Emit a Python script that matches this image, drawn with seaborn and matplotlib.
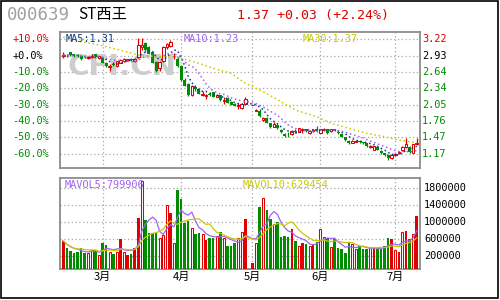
import numpy as np
import pandas as pd
import matplotlib
matplotlib.use("Agg")
import matplotlib.pyplot as plt
import matplotlib.transforms as mtrans
from matplotlib.patches import Rectangle
import seaborn as sns

nan = np.nan

# ---------------- data ----------------
OPEN = [2.92, 2.93, 2.99, 2.95, 2.94, 2.93, 2.91, 2.89, 2.90, 2.95,
        2.88, 2.89, 2.80, 2.73, 2.77, 2.74, 2.80, 2.84, 2.85, 2.86,
        2.84, 2.90, 3.08, 3.16, 3.08, 2.99, 2.81, 2.70, 2.84, 3.08,
        3.10, 2.92, 2.87, 2.74, 2.49, 2.42, 2.23, 2.36, 2.34, 2.22,
        2.21, 2.25, 2.27, 2.19, 2.22, 2.12, 2.17, 2.10, 2.07, 2.03,
        2.00, 2.06, nan, 2.04, 1.94, 1.93, 1.77, 1.82, 1.72, 1.66,
        1.69, 1.60, 1.53, 1.53, 1.52, 1.58, 1.57, 1.60, 1.61, 1.54,
        1.59, 1.62, 1.55, 1.60, 1.61, 1.58, 1.61, 1.57, 1.52, 1.47,
        1.41, 1.37, 1.39, 1.41, 1.38, 1.36, 1.29, 1.25, 1.30, 1.23,
        1.18, 1.16, 1.09, 1.15, 1.18, 1.24, 1.29, 1.29, 1.19, 1.34]
HIGH = [2.99, 2.95, 3.00, 2.96, 2.95, 2.94, 2.93, 2.93, 2.95, 2.96,
        2.93, 2.90, 2.81, 2.77, 2.79, 2.84, 2.86, 2.88, 2.87, 2.88,
        2.88, 3.24, 3.24, 3.18, 3.10, 3.00, 2.83, 2.83, 3.10, 3.16,
        3.21, 2.98, 2.90, 2.76, 2.52, 2.43, 2.40, 2.40, 2.35, 2.30,
        2.24, 2.28, 2.28, 2.24, 2.23, 2.18, 2.18, 2.12, 2.08, 2.08,
        2.08, 2.19, nan, 2.04, 1.98, 1.97, 1.84, 1.84, 1.73, 1.75,
        1.70, 1.62, 1.55, 1.57, 1.60, 1.61, 1.64, 1.64, 1.62, 1.60,
        1.62, 1.67, 1.62, 1.63, 1.62, 1.62, 1.62, 1.58, 1.53, 1.48,
        1.42, 1.42, 1.42, 1.42, 1.39, 1.37, 1.33, 1.32, 1.31, 1.24,
        1.19, 1.17, 1.17, 1.19, 1.23, 1.31, 1.45, 1.31, 1.35, 1.46]
LOW = [2.89, 2.90, 2.93, 2.91, 2.90, 2.85, 2.88, 2.87, 2.89, 2.89,
       2.87, 2.79, 2.73, 2.66, 2.74, 2.73, 2.79, 2.82, 2.83, 2.83,
       2.82, 2.89, 3.02, 3.00, 2.95, 2.79, 2.63, 2.66, 2.82, 3.04,
       3.08, 2.86, 2.73, 2.48, 2.38, 2.20, 2.21, 2.30, 2.24, 2.20,
       2.15, 2.21, 2.18, 2.18, 2.12, 2.07, 2.08, 2.04, 2.02, 1.97,
       1.98, 2.05, nan, 2.04, 1.94, 1.84, 1.76, 1.72, 1.64, 1.65,
       1.62, 1.55, 1.48, 1.48, 1.51, 1.55, 1.56, 1.55, 1.56, 1.52,
       1.57, 1.57, 1.54, 1.58, 1.53, 1.57, 1.58, 1.53, 1.47, 1.41,
       1.34, 1.36, 1.38, 1.37, 1.35, 1.30, 1.28, 1.24, 1.24, 1.17,
       1.14, 1.06, 1.08, 1.14, 1.17, 1.23, 1.28, 1.19, 1.18, 1.33]
CLOSE = [2.94, 2.92, 2.94, 2.93, 2.92, 2.86, 2.90, 2.91, 2.93, 2.90,
         2.92, 2.80, 2.74, 2.75, 2.76, 2.83, 2.85, 2.86, 2.86, 2.85,
         2.86, 3.11, 3.11, 3.02, 2.96, 2.80, 2.65, 2.81, 3.09, 3.13,
         3.18, 2.93, 2.75, 2.49, 2.39, 2.22, 2.39, 2.34, 2.25, 2.24,
         2.22, 2.23, 2.19, 2.22, 2.13, 2.14, 2.09, 2.05, 2.03, 2.05,
         2.06, 2.15, nan, 2.04, 1.95, 1.85, 1.82, 1.73, 1.65, 1.70,
         1.64, 1.56, 1.49, 1.52, 1.58, 1.57, 1.63, 1.62, 1.58, 1.59,
         1.60, 1.58, 1.61, 1.62, 1.54, 1.61, 1.59, 1.55, 1.48, 1.42,
         1.37, 1.40, 1.41, 1.39, 1.36, 1.31, 1.31, 1.31, 1.25, 1.18,
         1.15, 1.10, 1.16, 1.17, 1.21, 1.29, 1.35, 1.20, 1.34, 1.37]
VOLUME = [560000, 395000, 308000, 261000, 285000, 395000, 261000, 271000, 348000, 332000,
          224000, 513000, 466000, 301000, 238000, 301000, 591000, 301000, 224000, 254000,
          395000, 1101000, 1955000, 1038000, 741000, 741000, 741000, 631000, 690000, 1407000,
          1207000, 506000, 1744000, 1548000, 984000, 1024000, 866000, 725000, 748000, 725000,
          567000, 620000, 631000, 678000, 772000, 614000, 435000, 435000, 513000, 631000,
          772000, 1077000, nan, 42000, 513000, 1353000, 1572000, 1289000, 1061000, 960000,
          1000000, 647000, 671000, 654000, 842000, 553000, 435000, 513000, 473000, 435000,
          473000, 536000, 842000, 647000, 614000, 412000, 591000, 395000, 355000, 278000,
          513000, 489000, 355000, 435000, 355000, 355000, 412000, 412000, 355000, 372000,
          440000, 630000, 600000, 340000, 285010, 760000, 780000, 600000, 720000, 1139530]
# volume bar style: f = red filled, h = red hollow, g = green, - = no trading
VOL_STYLE = list("fgggggghhg" "hgghghfhfg" "ffhgggghhh" "fhgggghggh" "fgghghgggh"
                 "hf-fhghggh" "ggggfghfgh" "fghhghgggg" "ghhggghfgg" "ggfhfhfghf")

MA30_IDX = [0, 5, 10, 15, 21, 26, 31, 33, 38, 42, 47, 51, 56, 61, 65, 71, 75, 80, 85, 90, 94, 99]
MA30_VAL = [3.256, 3.177, 3.118, 3.041, 2.939, 2.909, 2.898, 2.880, 2.791, 2.702, 2.612,
            2.434, 2.283, 2.105, 1.956, 1.837, 1.719, 1.629, 1.540, 1.479, 1.420, 1.37]

MONTH_IDX = [11, 33, 53, 72, 93]
MONTH_LABELS = ["3月", "4月", "5月", "6月", "7月"]
BASE = 2.93
PCT_LEVELS = [10, 0, -10, -20, -30, -40, -50, -60]
PCT_LABELS = ["+10.0%", "+0.0%", "-10.0%", "-20.0%", "-30.0%", "-40.0%", "-50.0%", "-60.0%"]
PRICE_LABELS = ["3.22", "2.93", "2.64", "2.34", "2.05", "1.76", "1.47", "1.17"]
VOL_TICKS = [1800000, 1400000, 1000000, 600000, 200000]
CODE = "000639"
NAME = "ST西王"

# ---------------- styling ----------------
RED = "#e00000"
GREEN = "#008c00"
MA5C = "#0a3c8c"
MA10C = "#a262f2"
MA30C = "#c8c800"
GRIDC = "#a8a8a8"
FRAMEC = "#8c8c8c"
MONO = "DejaVu Sans Mono"
CJK = ["Noto Sans CJK SC", "DejaVu Sans"]
DOT = (0, (1, 1.8))
GRID_DOT = (0, (1, 2))

sns.set_theme(style="white")
plt.rcParams["font.family"] = ["DejaVu Sans"]

W, H = 500, 300
fig = plt.figure(figsize=(W / 100, H / 100), dpi=100)
fig.patch.set_facecolor("white")


def fx(px):
    return px / W


def fy(py):
    return 1 - py / H


L, R = 60, 420
ax = fig.add_axes([fx(L), fy(168), (R - L) / W, (168 - 32) / H])
axv = fig.add_axes([fx(L), fy(269), (R - L) / W, (269 - 178) / H])

n = len(CLOSE)
df = pd.DataFrame({"i": np.arange(n), "open": OPEN, "high": HIGH, "low": LOW,
                   "close": CLOSE, "vol": VOLUME, "style": VOL_STYLE})
ok = df["close"].notna()
for w in (5, 10):
    df.loc[ok, f"ma{w}"] = df.loc[ok, "close"].rolling(w, min_periods=1).mean()
    df.loc[ok, f"mav{w}"] = df.loc[ok, "vol"].rolling(w, min_periods=1).mean()
valid = df[ok]

XMIN, XMAX = -0.92, n - 0.08
PMIN, PMAX = 0.92, 3.35
VOL_FLOOR, VOL_TOP = -106000, 2035000

for a in (ax, axv):
    a.set_facecolor("white")
    a.set_xlim(XMIN, XMAX)
    a.set_xticks([])
    a.set_yticks([])
    for s in a.spines.values():
        s.set_color(FRAMEC)
        s.set_linewidth(1.3)
        s.set_visible(True)
    for m in MONTH_IDX:
        a.axvline(m, color=GRIDC, lw=0.9, linestyle=GRID_DOT, zorder=1)
ax.set_ylim(PMIN, PMAX)
axv.set_ylim(VOL_FLOOR, VOL_TOP)

price_levels = [BASE * (1 + p / 100) for p in PCT_LEVELS]
for lv in price_levels:
    ax.axhline(lv, color=GRIDC, lw=0.9, linestyle=GRID_DOT, zorder=1)
for lv in VOL_TICKS:
    axv.axhline(lv, color=GRIDC, lw=0.9, linestyle=GRID_DOT, zorder=1)

# watermark
ax.text(0.022, 0.745, "CFI.CN", transform=ax.transAxes, fontsize=21, fontweight="bold",
        color="#cdcdcd", va="center", ha="left", zorder=2)

# candles
for r in valid.itertuples():
    up = r.close >= r.open
    col = RED if up else GREEN
    ax.vlines(r.i, r.low, r.high, color=col, lw=0.9, zorder=3)
    lo, hi = min(r.open, r.close), max(r.open, r.close)
    if up:
        ax.add_patch(Rectangle((r.i - 0.36, lo), 0.72, max(hi - lo, 1e-4),
                               facecolor="white", edgecolor=col, lw=0.75, zorder=4))
    else:
        ax.add_patch(Rectangle((r.i - 0.42, lo), 0.84, max(hi - lo, 0.006),
                               facecolor=col, edgecolor="none", lw=0, zorder=4))

# moving averages
sns.lineplot(data=valid, x="i", y="ma5", ax=ax, color=MA5C, lw=1.1, linestyle=DOT, zorder=5)
sns.lineplot(data=valid, x="i", y="ma10", ax=ax, color=MA10C, lw=1.1, linestyle=DOT, zorder=5)
sns.lineplot(x=MA30_IDX, y=MA30_VAL, ax=ax, color=MA30C, lw=1.1, linestyle=DOT, zorder=5)

# volume bars
for r in valid.itertuples():
    if r.style == "h":
        axv.bar(r.i, r.vol - VOL_FLOOR, bottom=VOL_FLOOR, width=0.56, facecolor="white",
                edgecolor=RED, lw=0.75, zorder=3)
    else:
        axv.bar(r.i, r.vol - VOL_FLOOR, bottom=VOL_FLOOR, width=0.7,
                facecolor=GREEN if r.style == "g" else RED, edgecolor="none", lw=0, zorder=3)

sns.lineplot(data=valid, x="i", y="mav5", ax=axv, color=MA10C, lw=0.9, zorder=5)
sns.lineplot(data=valid, x="i", y="mav10", ax=axv, color=MA30C, lw=0.9, zorder=5)

for a in (ax, axv):
    a.set_xlabel("")
    a.set_ylabel("")
    a.set_xlim(XMIN, XMAX)
ax.set_ylim(PMIN, PMAX)
axv.set_ylim(VOL_FLOOR, VOL_TOP)

# axis labels
bl = mtrans.blended_transform_factory(ax.transAxes, ax.transData)
for k, (lv, pl, rl) in enumerate(zip(price_levels, PCT_LABELS, PRICE_LABELS)):
    c = RED if PCT_LEVELS[k] > 0 else ("black" if PCT_LEVELS[k] == 0 else GREEN)
    ax.text(-0.133, lv, pl, transform=bl, color=c, fontsize=7.4, family=MONO,
            ha="left", va="center", clip_on=False)
    ax.text(1.006, lv, rl, transform=bl, color=c, fontsize=7.4, family=MONO,
            ha="left", va="center", clip_on=False)
blv = mtrans.blended_transform_factory(axv.transAxes, axv.transData)
for lv in VOL_TICKS:
    axv.text(1.011, lv, str(lv), transform=blv, color="black", fontsize=7.4, family=MONO,
             ha="left", va="center", clip_on=False)
bm = mtrans.blended_transform_factory(axv.transData, axv.transAxes)
for m, lab in zip(MONTH_IDX, MONTH_LABELS):
    axv.text(m, -0.088, lab, transform=bm, fontsize=8, family=CJK, color="black",
             ha="center", va="center", clip_on=False)

# legends
last = valid.iloc[-1]
fig.text(fx(66), fy(38.5), f"MA5:{last['ma5']:.2f}", color=MA5C, fontsize=7.4, family=MONO, va="center")
fig.text(fx(184), fy(38.5), f"MA10:{last['ma10']:.2f}", color=MA10C, fontsize=7.4, family=MONO, va="center")
fig.text(fx(303), fy(38.5), f"MA30:{MA30_VAL[-1]:.2f}", color=MA30C, fontsize=7.4, family=MONO, va="center")
fig.text(fx(65), fy(185), f"MAVOL5:{int(round(last['mav5']))}", color=MA10C, fontsize=7.4,
         family=MONO, va="center")
fig.text(fx(243), fy(185), f"MAVOL10:{int(round(last['mav10']))}", color=MA30C, fontsize=7.4,
         family=MONO, va="center")

# header
prev = valid.iloc[-2]["close"]
chg = last["close"] - prev
pct = chg / prev * 100
fig.text(fx(7), fy(15), CODE, color="#a0a0a0", fontsize=12.5, family=MONO, va="center")
fig.text(fx(78), fy(15), NAME, color="black", fontsize=11, family=CJK, va="center")
fig.text(fx(237), fy(15), f"{last['close']:.2f} {chg:+.2f} ({pct:+.2f}%)", color=RED,
         fontsize=9.5, family=MONO, va="center")

# outer frame
fig.add_artist(Rectangle((fx(0.7), fy(298)), (498 - 0.7) / W, (298 - 0.7) / H,
                         transform=fig.transFigure, fill=False, edgecolor="black", lw=1.2))

fig.savefig("out.png", dpi=100)
